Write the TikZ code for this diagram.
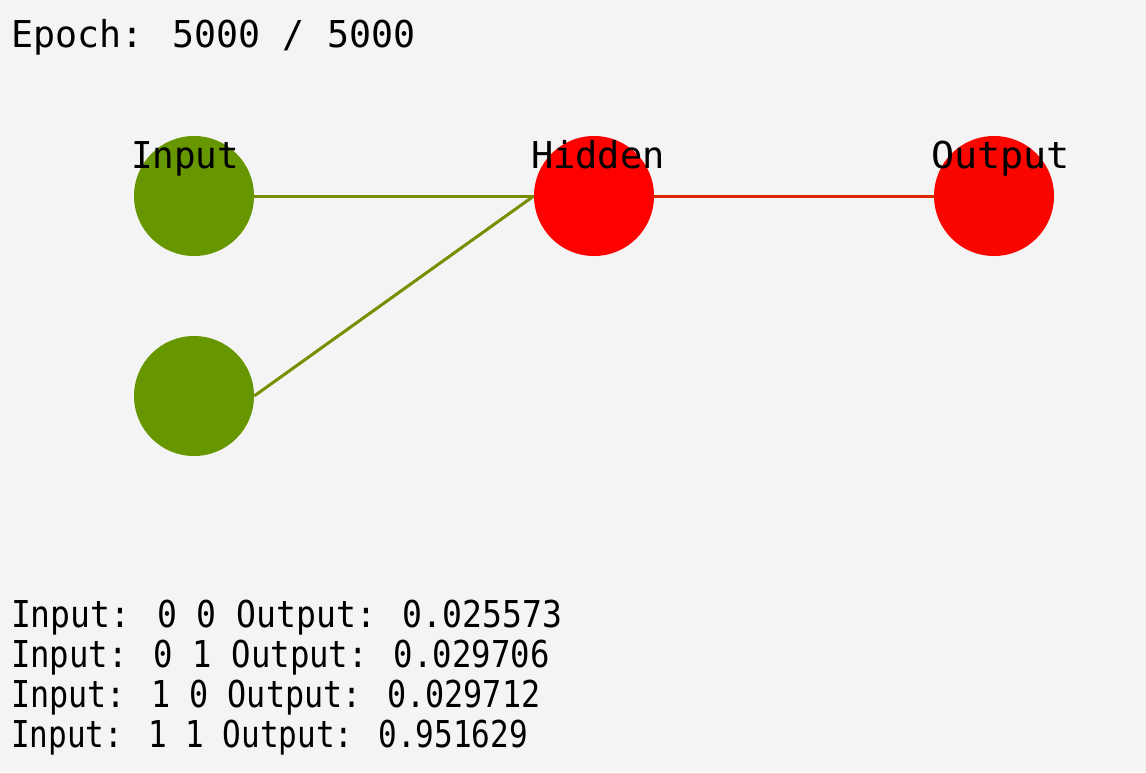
\documentclass[tikz,border=0pt]{standalone}
\usepackage{fontspec}
\setmainfont{DejaVu Sans Mono}
\usetikzlibrary{backgrounds}
\definecolor{bg}{HTML}{F4F4F4}
\definecolor{ingreen}{HTML}{669600}
\definecolor{hidred}{HTML}{FE0000}
\definecolor{outred}{HTML}{FA0600}
\definecolor{edgegreen}{HTML}{7A8C00}
\definecolor{edgered}{HTML}{DC2800}
\tikzset{
  neuron/.style={circle, minimum size=120pt, inner sep=0pt, draw=none},
  txt/.style={anchor=base west, inner sep=0pt, outer sep=0pt, text=black, font=\fontsize{37}{40}\selectfont},
  wire/.style={line width=3pt}
}
\begin{document}
\begin{tikzpicture}[x=1pt,y=-1pt]
\begin{pgfonlayer}{background}
\fill[bg] (0,0) rectangle (1146,772);
\end{pgfonlayer}
\useasboundingbox (0,0) rectangle (1146,772);
\node[neuron, fill=ingreen] (in1) at (194,196) {};
\node[neuron, fill=ingreen] (in2) at (194,396) {};
\node[neuron, fill=hidred] (hid) at (594,196) {};
\node[neuron, fill=outred] (out) at (994,196) {};
\begin{pgfonlayer}{background}
\draw[wire, edgegreen] (in1.east) -- (hid.west);
\draw[wire, edgegreen] (in2.east) -- (hid.west);
\draw[wire, edgered] (hid.east) -- (out.west);
\end{pgfonlayer}
\node[txt] (epoch) at (11,47) {\scalebox{0.99}[1]{Epoch: 5000 / 5000}};
\node[txt] (lin) at (131,168) {\scalebox{0.97}[1]{Input}};
\node[txt] (lhid) at (531,168) {Hidden};
\node[txt] (lout) at (931,168) {\scalebox{1.04}[1]{Output}};
\node[txt] (r1) at (11,627) {\scalebox{0.894}[1]{Input: 0 0 Output: 0.025573}};
\node[txt] (r2) at (11,667) {\scalebox{0.874}[1]{Input: 0 1 Output: 0.029706}};
\node[txt] (r3) at (11,707) {\scalebox{0.859}[1]{Input: 1 0 Output: 0.029712}};
\node[txt] (r4) at (11,747) {\scalebox{0.839}[1]{Input: 1 1 Output: 0.951629}};
\end{tikzpicture}
\end{document}
